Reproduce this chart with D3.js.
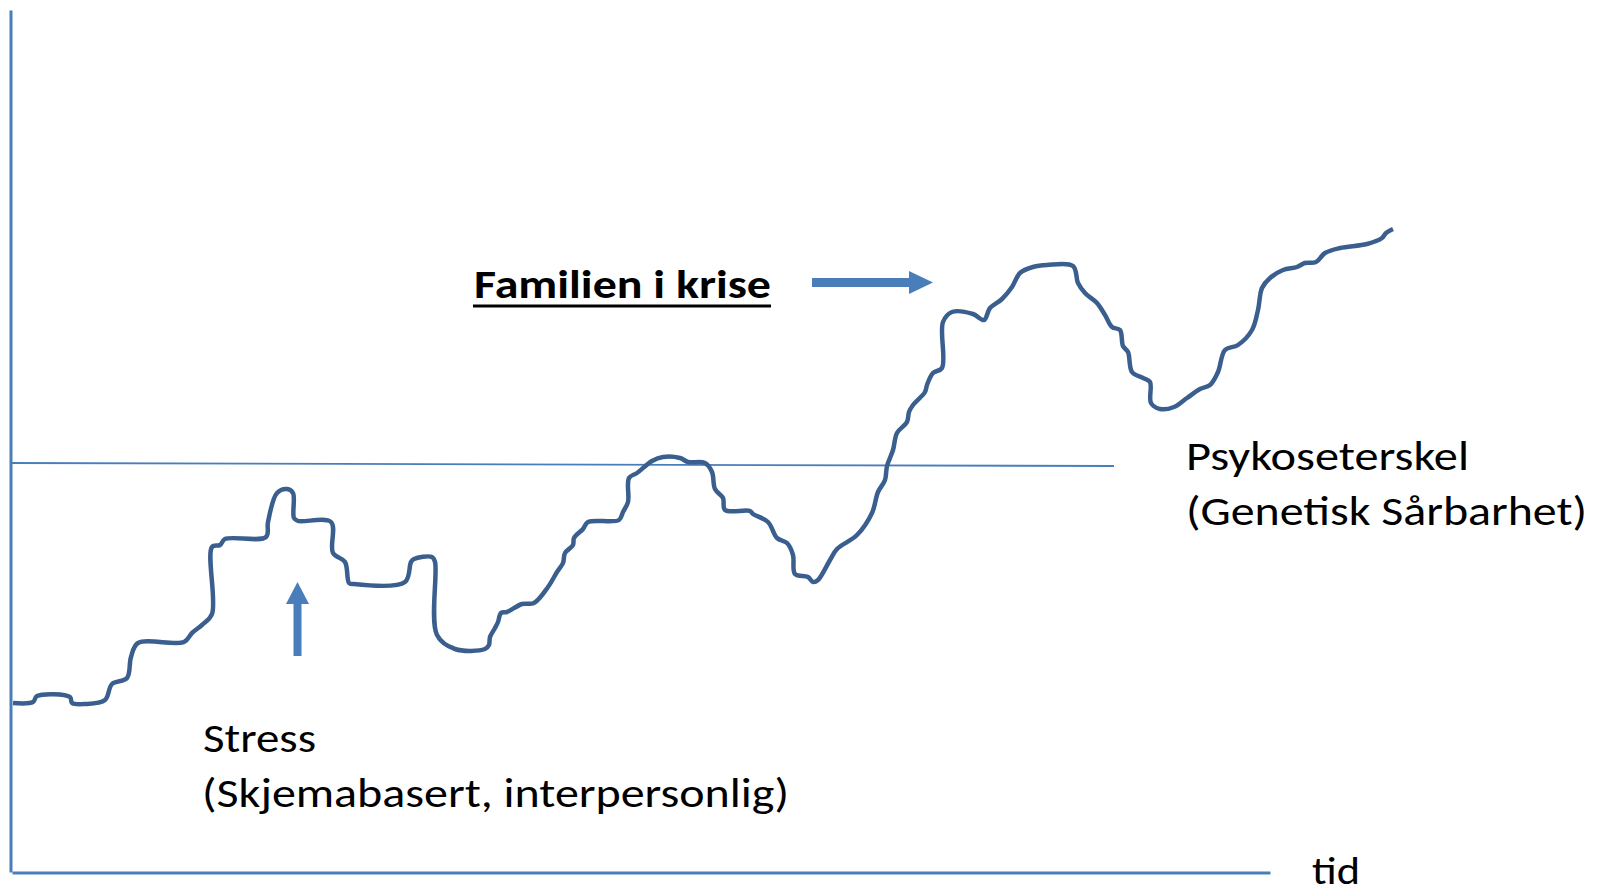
<!DOCTYPE html>
<html>
<head>
<meta charset="utf-8">
<script src="https://cdn.jsdelivr.net/npm/d3@7"></script>
<style>
  html, body { margin: 0; padding: 0; background: #fff; }
  svg { display: block; }
  text { font-family: Carlito, Calibri, Lato, "Open Sans", sans-serif; fill: #000; }
</style>
</head>
<body>
<div class="chart"></div>
<script>
// tid (x) og nivå (y), lest av bildet
var tid = [1, 21, 25, 58, 60, 73, 93, 100, 115, 119, 126, 172, 180, 190, 200, 200, 208, 213, 254, 256,
  265, 275, 281, 282, 286, 319, 321, 333, 337, 341, 393, 399, 402, 420, 423, 425, 443, 473, 477, 478,
  483, 486, 489, 495, 510, 522, 536, 545, 551, 553, 561, 562, 571, 576, 607, 611, 616, 617, 625, 640,
  651, 668, 676, 693, 700, 703, 711, 713, 738, 741, 756, 765, 775, 781, 783, 796, 801, 806, 818, 825,
  845, 860, 866, 873, 875, 881, 885, 895, 897, 901, 913, 915, 921, 930, 931, 940, 961, 972, 978, 990,
  1000, 1008, 1021, 1035, 1061, 1066, 1073, 1085, 1093, 1100, 1108, 1111, 1116, 1120, 1131, 1138, 1139, 1148, 1162, 1175,
  1188, 1198, 1206, 1213, 1226, 1240, 1246, 1250, 1258, 1271, 1285, 1293, 1304, 1313, 1328, 1355, 1370, 1374, 1381];
var niva = [169, 170, 176, 175, 169, 168, 172, 188, 194, 215, 229, 230, 239, 247, 258, 325, 327, 333, 335, 350,
  379, 383, 379, 354, 351, 350, 319, 310, 289, 288, 290, 310, 313, 315, 310, 237, 223, 223, 227, 235,
  244, 250, 259, 260, 268, 269, 285, 300, 309, 319, 327, 334, 343, 350, 352, 360, 370, 394, 399, 411,
  415, 414, 410, 409, 400, 383, 374, 362, 361, 358, 350, 334, 329, 317, 298, 295, 290, 292, 312, 323,
  337, 359, 380, 392, 406, 422, 439, 450, 460, 467, 480, 487, 499, 504, 550, 560, 558, 552, 564, 573,
  585, 599, 605, 607, 606, 589, 579, 569, 557, 545, 542, 526, 520, 500, 494, 490, 469, 463, 465, 474,
  483, 487, 500, 522, 527, 542, 562, 584, 594, 602, 605, 609, 610, 619, 624, 628, 634, 639, 643];

// psykoseterskel (start og slutt)
var terskelTid = [-2, 1102];
var terskelNiva = [409, 406];

var width = 1600;
var height = 892;

var svg = d3.select("div.chart").append("svg").attr("width", width).attr("height", height);

var x = d3.scaleLinear().domain([0, 1258]).range([12, 1270]);
var y = d3.scaleLinear().domain([0, 862]).range([872, 10]);

var blaa = "#4A7EBB";
var linjefarge = "#3A5F8E";

// akser uten merker
var xAxis = svg.append("g")
  .attr("transform", "translate(0," + 872.5 + ")")
  .call(d3.axisBottom(x).tickValues([]).tickSizeOuter(0));
xAxis.select(".domain").attr("stroke", blaa).attr("stroke-width", 3);

var yAxis = svg.append("g")
  .attr("transform", "translate(" + 10.5 + ",0)")
  .call(d3.axisLeft(y).tickValues([]).tickSizeOuter(0));
yAxis.select(".domain").attr("stroke", blaa).attr("stroke-width", 3);

// terskel
svg.append("line")
  .attr("x1", x(terskelTid[0])).attr("y1", y(terskelNiva[0]))
  .attr("x2", x(terskelTid[1])).attr("y2", y(terskelNiva[1]))
  .attr("stroke", blaa)
  .attr("stroke-width", 1.8);

// kurven
var data = tid.map(function(t, i) { return { t: t, v: niva[i] }; });
var line = d3.line()
  .x(function(d) { return x(d.t); })
  .y(function(d) { return y(d.v); })
  .curve(d3.curveCatmullRom.alpha(0.5));

svg.append("path")
  .datum(data)
  .attr("d", line)
  .attr("fill", "none")
  .attr("stroke", linjefarge)
  .attr("stroke-width", 4.5)
  .attr("stroke-linejoin", "round");

// pil opp (stress)
var ax = 297.5;
svg.append("rect").attr("x", ax - 4).attr("y", 603).attr("width", 8).attr("height", 53).attr("fill", blaa);
svg.append("path")
  .attr("d", "M" + (ax - 11.5) + ",604L" + ax + ",582L" + (ax + 11.5) + ",604Z")
  .attr("fill", blaa);

// pil høyre (familien i krise)
svg.append("rect").attr("x", 812).attr("y", 278).attr("width", 98).attr("height", 9).attr("fill", blaa);
svg.append("path")
  .attr("d", "M909,271L933,282.5L909,294Z")
  .attr("fill", blaa);

// tekster
function label(str, px, py, w, opts) {
  opts = opts || {};
  return svg.append("text")
    .attr("x", px)
    .attr("y", py)
    .attr("font-size", opts.size || "40px")
    .attr("font-weight", opts.weight || "normal")
    .attr("textLength", w)
    .attr("lengthAdjust", "spacingAndGlyphs")
    .text(str);
}

label("Familien i krise", 474, 298, 297, { size: "41px", weight: "bold" });
svg.append("line")
  .attr("x1", 473).attr("x2", 771)
  .attr("y1", 306).attr("y2", 306)
  .attr("stroke", "#000")
  .attr("stroke-width", 3);

label("Psykoseterskel", 1186, 470, 283);
label("(Genetisk Sårbarhet)", 1186, 525, 401);

label("Stress", 203, 752, 113);
label("(Skjemabasert, interpersonlig)", 202, 807, 587);

label("tid", 1312, 884, 48, { size: "39px" });
</script>
</body>
</html>
